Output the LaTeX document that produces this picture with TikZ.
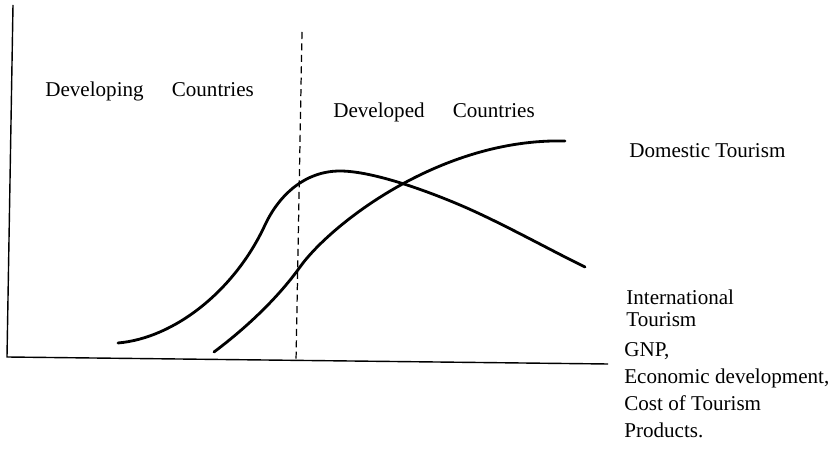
\documentclass[tikz,border=0pt]{standalone}
\usepackage{fontspec}
\setmainfont{Liberation Serif}
\usepackage{tikz}

\begin{document}
\begin{tikzpicture}[x=0.02cm, y=-0.02cm,
  curve/.style={line width=1.6pt, line cap=round},
  lbl/.style={anchor=base west, inner sep=0pt, font=\fontsize{12}{14}\selectfont}]

\useasboundingbox (0,0) rectangle (832,455);

\draw[line width=0.8pt] (13,5) -- (7,357) -- (608,364);
\draw[line width=0.7pt, dash pattern=on 4pt off 2.5pt] (302,32) -- (296,362);

\draw[curve] (118,343) .. controls (175,338) and (235,290) .. (265,225)
  .. controls (279,195) and (305,171) .. (340,171)
  .. controls (370,171) and (420,188) .. (460,205)
  .. controls (500,222) and (550,250) .. (585,267);
\draw[curve] (214,352) .. controls (250,325) and (280,295) .. (300,267)
  .. controls (330,225) and (440,138) .. (565,141);

\node[lbl] (developing) at (45,97) {Developing\hspace{16pt}Countries};
\node[lbl] (developed) at (333,118) {Developed\hspace{16pt}Countries};
\node[lbl] (domestic) at (629,158) {Domestic Tourism};
\node[lbl] (intl) at (626,305) {International};
\node[lbl] (intl2) at (626,327) {Tourism};
\node[lbl] (gnp) at (624,357) {GNP,};
\node[lbl] (econ) at (624,384) {Economic development,};
\node[lbl] (cost) at (624,411) {Cost of Tourism};
\node[lbl] (prod) at (624,438) {Products.};

\end{tikzpicture}
\end{document}
